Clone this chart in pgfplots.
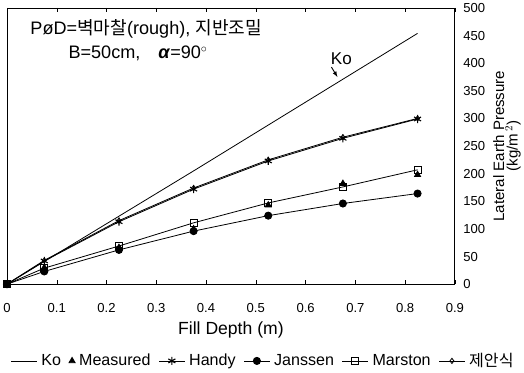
\documentclass[border=0pt]{standalone}
\usepackage{pgfplots}
\pgfplotsset{compat=1.18}
\usepackage{fontspec}
\setmainfont{Liberation Sans}
\newfontfamily\kr{Noto Sans CJK KR}

% slightly longer legend samples for the line series
\pgfplotsset{longleg/.style={
  legend image code/.code={
    \draw[mark repeat=2, mark phase=2]
      plot coordinates {(0cm,0cm) (0.45cm,0cm) (0.9cm,0cm)};}}}

\begin{document}
\begin{tikzpicture}
\begin{axis}[
  scale only axis,
  width=446pt, height=275pt,
  xmin=0, xmax=0.9, ymin=0, ymax=500,
  xtick={0,0.1,...,0.9},
  xticklabels={0,0.1,0.2,0.3,0.4,0.5,0.6,0.7,0.8,0.9},
  ytick={0,50,...,500},
  yticklabel pos=right,
  tick align=inside,
  ytick style={draw=none},
  xtick style={black, thin},
  major tick length=4pt,
  tick label style={font=\fontsize{13}{14}\selectfont},
  xticklabel style={yshift=-16pt},
  yticklabel style={xshift=5pt},
  /pgf/number format/assume math mode=true,
  xlabel={Fill Depth (m)},
  xlabel style={font=\fontsize{17.5}{18}\selectfont, yshift=-2pt},
  ylabel={Lateral Earth Pressure\\(kg/m$^{\,2}$)},
  ylabel style={font=\fontsize{15}{12}\selectfont, align=center, yshift=-1pt},
  axis line style={black, line width=0.9pt},
  every axis plot/.append style={black, line width=0.8pt},
  legend columns=6,
  legend style={draw=none, fill=none, at={(0.572,-0.236)}, anchor=north,
    font=\fontsize{16}{17}\selectfont, column sep=2pt,
    /tikz/every even column/.append style={column sep=6pt}},
  legend cell align=left,
  clip=false,
]
% K0 (at-rest) line
\addplot[no marks, longleg] coordinates {
  (0,0) (0.075,41) (0.225,123) (0.375,205) (0.525,288) (0.675,371) (0.825,454)};
\addlegendentry{Ko}
% measured pressures
\addplot[only marks, mark=triangle*, mark size=3.5pt] coordinates {
  (0,0) (0.075,30) (0.225,66) (0.375,100) (0.525,143) (0.675,182) (0.825,198)};
\addlegendentry{Measured}
% Handy
\addplot[longleg, mark=asterisk, mark size=4pt, mark options={line width=1.1pt}] coordinates {
  (0,0) (0.075,42) (0.225,113) (0.375,172) (0.525,223) (0.675,264) (0.825,299)};
\addlegendentry{Handy}
% Janssen
\addplot[longleg, mark=*, mark size=3.6pt] coordinates {
  (0,0) (0.075,23) (0.225,62) (0.375,96) (0.525,124) (0.675,146) (0.825,164)};
\addlegendentry{Janssen}
% Marston
\addplot[longleg, mark=square, mark size=3.4pt, mark options={fill=white}] coordinates {
  (0,0) (0.075,29) (0.225,69) (0.375,111) (0.525,147) (0.675,176) (0.825,207)};
\addlegendentry{Marston}
% proposed equation
\addplot[longleg, mark=diamond, mark size=2.6pt, mark options={fill=white}] coordinates {
  (0,0) (0.075,43) (0.225,115) (0.375,174) (0.525,225) (0.675,266) (0.825,300)};
\addlegendentry{{\kr 제안식}}

% annotations
\node[anchor=west, font=\fontsize{18}{19}\selectfont, inner sep=0pt]
  at (rel axis cs:0.052,0.925) {PøD={\kr 벽마찰}(rough), {\kr 지반조밀}};
\node[anchor=west, font=\fontsize{18}{19}\selectfont, inner sep=0pt]
  at (rel axis cs:0.137,0.835) {B=50cm,\quad\textit{\textbf{α}}=90$^{\circ}$};
\node[font=\fontsize{17}{18}\selectfont] at (axis cs:0.672,409) {Ko};
\draw[-latex, line width=0.9pt] (axis cs:0.652,393) -- (axis cs:0.664,375);
\end{axis}
\end{tikzpicture}
\end{document}
